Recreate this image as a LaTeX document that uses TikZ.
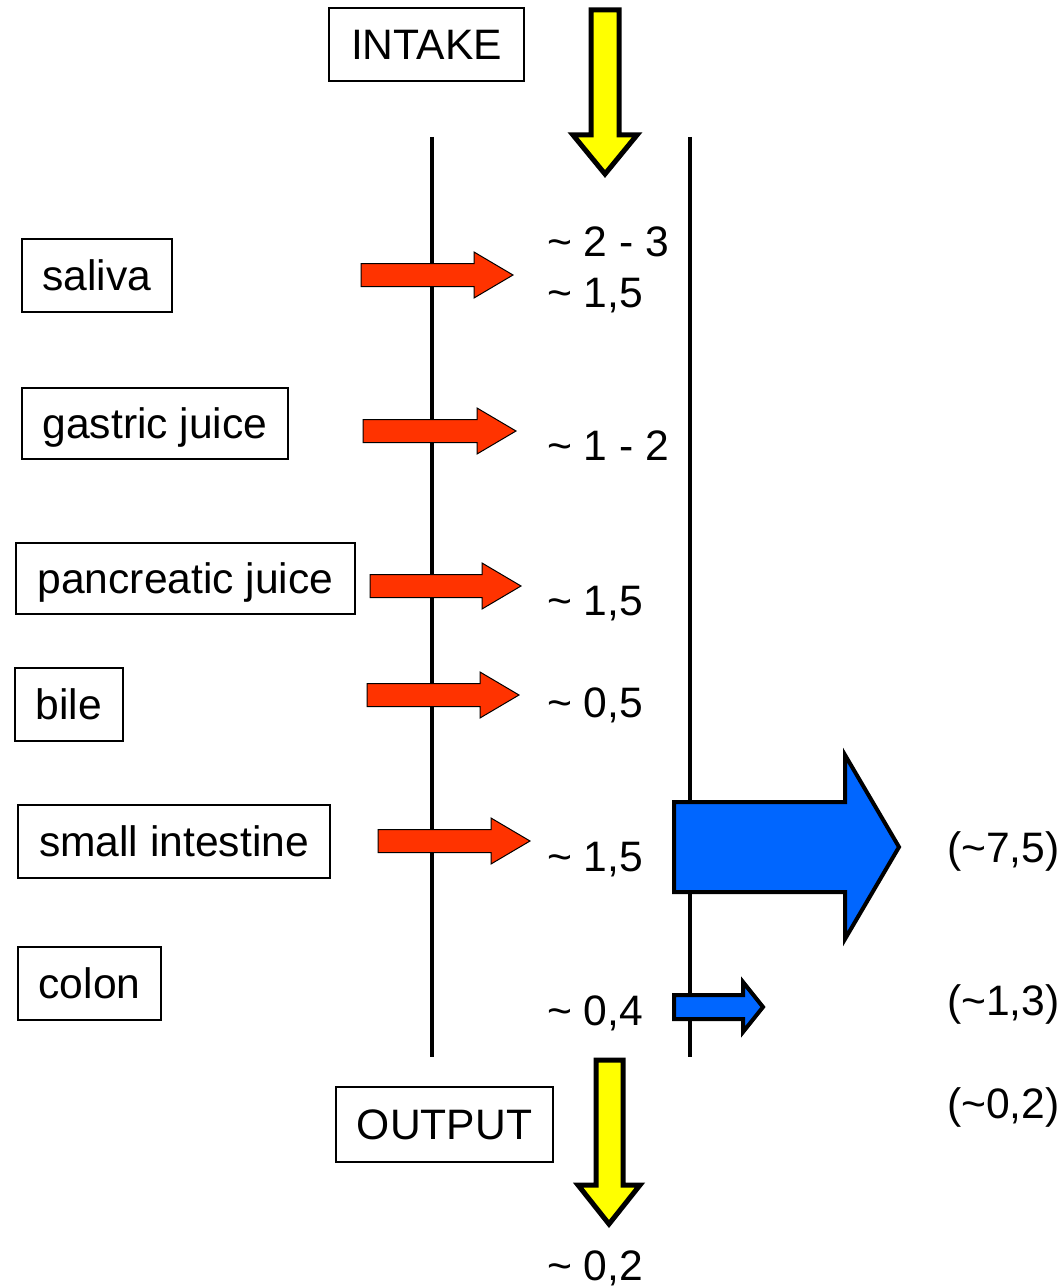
\documentclass[tikz,border=0pt]{standalone}
\usepackage{fontspec}
\setmainfont{Liberation Sans}
\definecolor{redfill}{HTML}{FF3300}
\definecolor{bluefill}{HTML}{0066FF}
\definecolor{yellowfill}{HTML}{FFFF00}
\newcommand\redarr[3]{% x0, yc, tip x
  \draw[redshape] (#1,#2-11.5) -- (#3-39,#2-11.5) -- (#3-39,#2-23) -- (#3,#2) -- (#3-39,#2+23) -- (#3-39,#2+11.5) -- (#1,#2+11.5) -- cycle;}
\begin{document}
\begin{tikzpicture}[x=1pt,y=-1pt,
  every node/.style={font=\fontsize{42.6}{50}\selectfont, inner sep=0pt},
  labelbox/.style={draw=black, line width=1.8pt, text height=30.5pt, text depth=0pt, align=center},
  numtxt/.style={anchor=base west},
  redshape/.style={fill=redfill, draw=black, line width=1pt, line join=miter},
  blueshape/.style={fill=bluefill, draw=black, line width=4pt, line join=miter},
  yellowshape/.style={fill=yellowfill, draw=black, line width=5pt, line join=miter},
  wall/.style={line width=4pt}]
\useasboundingbox (0,0) rectangle (1064,1287);

% boxes
\node[labelbox, minimum width=195pt, minimum height=73pt] (intake) at (426.5,44.5) {INTAKE};
\node[labelbox, minimum width=150pt, minimum height=73pt] (saliva) at (97,275.5) {saliva};
\node[labelbox, minimum width=266pt, minimum height=71pt] (gastric) at (155,423.5) {gastric juice};
\node[labelbox, minimum width=339pt, minimum height=71pt] (pancreatic) at (185.5,578.5) {pancreatic juice};
\node[labelbox, minimum width=108pt, minimum height=73pt] (bile) at (69,704.5) {bile};
\node[labelbox, minimum width=312pt, minimum height=73pt] (smallint) at (174,841.5) {small intestine};
\node[labelbox, minimum width=143pt, minimum height=73pt] (colon) at (89.5,983.5) {colon};
\node[labelbox, minimum width=217pt, minimum height=75pt] (output) at (444.5,1124.5) {OUTPUT};

% walls
\draw[wall] (432,137) -- (432,1057);
\draw[wall] (690,137) -- (690,1057);

% yellow arrows
\draw[yellowshape] (591,10) -- (619,10) -- (619,135) -- (637,135) -- (605,174) -- (573,135) -- (591,135) -- cycle;
\draw[yellowshape] (596,1060) -- (623,1060) -- (623,1185) -- (640,1185) -- (609,1224) -- (578,1185) -- (596,1185) -- cycle;

% red arrows
\redarr{361}{275}{513}
\redarr{363}{431}{516}
\redarr{370}{586}{521}
\redarr{367}{695}{519}
\redarr{378}{841}{530}

% blue arrows
\draw[blueshape] (674,802) -- (845,802) -- (845,755) -- (899,847) -- (845,939) -- (845,892) -- (674,892) -- cycle;
\draw[blueshape] (674,995) -- (743,995) -- (743,982) -- (763,1007) -- (743,1032) -- (743,1019) -- (674,1019) -- cycle;

% numbers
\node[numtxt] (n1) at (547,256) {\char`\~\ 2 - 3};
\node[numtxt] (n2) at (547,307) {\char`\~\ 1,5};
\node[numtxt] (n3) at (547,460) {\char`\~\ 1 - 2};
\node[numtxt] (n4) at (547,615) {\char`\~\ 1,5};
\node[numtxt] (n5) at (547,717) {\char`\~\ 0,5};
\node[numtxt] (n6) at (547,871) {\char`\~\ 1,5};
\node[numtxt] (n7) at (547,1025) {\char`\~\ 0,4};
\node[numtxt] (n8) at (547,1280) {\char`\~\ 0,2};
\node[numtxt] (r1) at (947,862) {(\char`\~7,5)};
\node[numtxt] (r2) at (947,1015) {(\char`\~1,3)};
\node[numtxt] (r3) at (947,1118) {(\char`\~0,2)};
\end{tikzpicture}
\end{document}
